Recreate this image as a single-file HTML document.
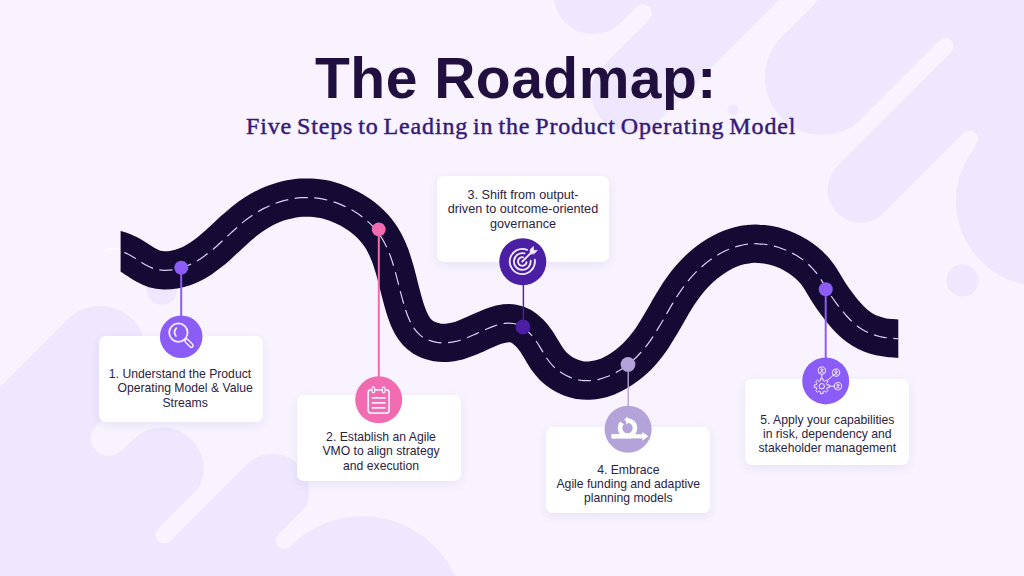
<!DOCTYPE html>
<html lang="en"><head><meta charset="utf-8"><title>The Roadmap</title>
<style>
html,body{margin:0;padding:0}
body{width:1024px;height:576px;overflow:hidden;background:#f8f3fe;position:relative;font-family:"Liberation Sans",sans-serif}
svg{position:absolute;left:0;top:0;display:block}
h1{position:absolute;margin:0;left:315px;top:44.6px;font:bold 57px/66px "Liberation Sans",sans-serif;color:#21103f;white-space:nowrap;letter-spacing:0.5px}
h2{position:absolute;margin:0;left:246px;top:110.6px;font:normal 24px/30px "Liberation Serif",serif;color:#351a78;white-space:nowrap;letter-spacing:0.85px;word-spacing:-1.9px;-webkit-text-stroke:0.45px #351a78}
.card{position:absolute;background:#fff;border-radius:7px;box-shadow:0 3px 10px rgba(125,95,200,.11);width:164px;height:86px}
.card p{position:absolute;margin:0;left:0;width:100%;text-align:center;font:12.2px/14.4px "Liberation Sans",sans-serif;color:#2a2344;white-space:nowrap}
</style></head>
<body>
<svg width="1024" height="576" viewBox="0 0 1024 576">
<g id="blobs">
<line x1="593" y1="-4.7" x2="1293" y2="-704.7" stroke="#eee7fd" stroke-width="78" stroke-linecap="round"/>
<line x1="630.6" y1="93.3" x2="1330.6" y2="-606.7" stroke="#eee7fd" stroke-width="78" stroke-linecap="round"/>
<line x1="822.4" y1="77.5" x2="1522.4" y2="-622.5" stroke="#eee7fd" stroke-width="115.0" stroke-linecap="round"/>
<line x1="860.6" y1="189.7" x2="1560.6" y2="-510.3" stroke="#eee7fd" stroke-width="66" stroke-linecap="round"/>
<line x1="1041" y1="201" x2="1741" y2="-499" stroke="#eee7fd" stroke-width="170" stroke-linecap="round"/>
<line x1="643.1" y1="13.1" x2="1343.1" y2="-686.9" stroke="#eee7fd" stroke-width="21.5" stroke-linecap="butt"/>
<line x1="643.1" y1="13.1" x2="483.1" y2="173.1" stroke="#f8f3fe" stroke-width="17.5" stroke-linecap="round"/>
<line x1="945.5" y1="46" x2="1645.5" y2="-654" stroke="#eee7fd" stroke-width="20" stroke-linecap="butt"/>
<line x1="945.5" y1="46" x2="785.5" y2="206" stroke="#f8f3fe" stroke-width="16" stroke-linecap="round"/>
<line x1="969.6" y1="139" x2="1669.6" y2="-561" stroke="#eee7fd" stroke-width="21.0" stroke-linecap="butt"/>
<line x1="969.6" y1="139" x2="809.6" y2="299" stroke="#f8f3fe" stroke-width="17.0" stroke-linecap="round"/>
<line x1="100" y1="352" x2="-600" y2="1052" stroke="#eee7fd" stroke-width="92" stroke-linecap="round"/>
<line x1="162.5" y1="468.5" x2="-537.5" y2="1168.5" stroke="#eee7fd" stroke-width="82.5" stroke-linecap="round"/>
<line x1="272.5" y1="490.7" x2="-427.5" y2="1190.7" stroke="#eee7fd" stroke-width="73.8" stroke-linecap="round"/>
<line x1="362.4" y1="618.3" x2="-337.6" y2="1318.3" stroke="#eee7fd" stroke-width="204" stroke-linecap="round"/>
<line x1="127" y1="392.4" x2="-73" y2="592.4" stroke="#eee7fd" stroke-width="7"/>
<line x1="108.2" y1="438.3" x2="-591.8" y2="1138.3" stroke="#eee7fd" stroke-width="39.0" stroke-linecap="butt"/>
<line x1="108.2" y1="438.3" x2="218.2" y2="328.3" stroke="#f8f3fe" stroke-width="35.0" stroke-linecap="round"/>
<line x1="164" y1="535" x2="-536" y2="1235" stroke="#eee7fd" stroke-width="21.0" stroke-linecap="butt"/>
<line x1="164" y1="535" x2="274" y2="425" stroke="#f8f3fe" stroke-width="17.0" stroke-linecap="round"/>
<line x1="284.1" y1="540.4" x2="-415.9" y2="1240.4" stroke="#eee7fd" stroke-width="21.0" stroke-linecap="butt"/>
<line x1="284.1" y1="540.4" x2="394.1" y2="430.4" stroke="#f8f3fe" stroke-width="17.0" stroke-linecap="round"/>
<circle cx="733" cy="109.8" r="5.6" fill="#eee7fd"/>
<circle cx="962.5" cy="280.5" r="16" fill="#eee7fd"/>
<circle cx="162" cy="290" r="15" fill="#eee7fd"/>
</g>
<defs><clipPath id="rc"><rect x="120.6" y="150" width="777.7" height="300"/></clipPath></defs>
<g clip-path="url(#rc)" fill="none">
<path d="M79.9 246.4C81.6 246.4 86.7 246.2 90.0 246.2C93.4 246.3 96.8 246.4 100.1 246.7C103.4 247.0 106.7 247.4 109.9 248.0C113.1 248.7 116.3 249.4 119.4 250.5C122.5 251.5 125.5 252.8 128.4 254.3C131.3 255.7 134.1 257.6 136.9 259.4C139.8 261.2 142.5 263.2 145.4 264.8C148.3 266.4 151.2 267.9 154.3 268.8C157.4 269.7 160.8 270.2 164.1 270.3C167.4 270.4 170.8 270.1 174.1 269.6C177.4 269.0 180.7 268.2 183.8 267.1C187.0 266.0 190.0 264.7 192.9 263.2C195.8 261.7 198.6 260.0 201.3 258.2C204.0 256.4 206.6 254.4 209.2 252.4C211.8 250.4 214.4 248.2 216.9 246.0C219.4 243.7 221.8 241.4 224.3 239.1C226.8 236.9 229.3 234.5 231.7 232.2C234.2 230.0 236.7 227.7 239.3 225.5C241.8 223.3 244.4 221.1 247.1 219.1C249.7 217.1 252.5 215.2 255.3 213.4C258.1 211.6 260.9 209.9 263.9 208.4C266.8 206.9 269.8 205.6 272.8 204.3C275.8 203.1 278.9 202.0 282.1 201.1C285.2 200.2 288.4 199.5 291.6 198.9C294.8 198.4 298.0 197.9 301.2 197.7C304.5 197.5 307.8 197.5 311.0 197.6C314.3 197.8 317.6 198.2 320.9 198.7C324.2 199.3 327.5 200.0 330.7 201.0C334.0 201.9 337.2 203.1 340.4 204.4C343.6 205.7 346.7 207.1 349.7 208.8C352.7 210.4 355.6 212.2 358.4 214.1C361.2 216.0 363.9 218.1 366.5 220.3C369.0 222.5 371.4 224.8 373.6 227.2C375.8 229.6 377.8 232.2 379.6 234.8C381.5 237.4 383.1 240.2 384.6 243.0C386.1 245.8 387.4 248.7 388.6 251.7C389.9 254.6 391.0 257.7 392.0 260.8C393.0 263.9 394.0 267.0 394.9 270.2C395.8 273.4 396.6 276.6 397.4 279.9C398.3 283.2 399.1 286.5 399.9 289.8C400.8 293.1 401.6 296.4 402.6 299.8C403.5 303.1 404.4 306.5 405.5 309.8C406.6 313.0 407.7 316.3 409.1 319.3C410.5 322.4 411.9 325.3 413.7 327.9C415.5 330.5 417.5 332.9 419.9 334.9C422.2 336.9 424.9 338.5 427.7 339.7C430.6 341.0 433.7 341.8 436.9 342.4C440.1 342.9 443.5 343.0 446.8 342.8C450.2 342.6 453.6 342.0 456.9 341.2C460.2 340.3 463.5 339.1 466.8 337.8C470.1 336.6 473.4 335.0 476.6 333.6C479.8 332.2 483.0 330.6 486.1 329.3C489.3 327.9 492.4 326.6 495.4 325.6C498.5 324.6 501.5 323.8 504.5 323.4C507.5 323.1 510.4 323.0 513.2 323.5C516.1 324.0 518.9 325.0 521.7 326.6C524.4 328.2 527.2 330.6 529.6 333.1C532.1 335.6 534.4 338.6 536.4 341.5C538.5 344.4 540.1 347.5 541.9 350.4C543.7 353.3 545.3 356.3 547.3 359.0C549.2 361.7 551.3 364.3 553.6 366.6C556.0 368.9 558.7 371.0 561.5 372.8C564.2 374.6 567.3 376.2 570.3 377.4C573.4 378.6 576.6 379.5 579.7 380.1C582.9 380.6 586.1 380.8 589.3 380.6C592.5 380.5 595.7 380.0 598.8 379.3C602.0 378.6 605.1 377.5 608.2 376.3C611.3 375.0 614.3 373.5 617.2 371.8C620.1 370.2 623.0 368.2 625.7 366.2C628.5 364.2 631.2 362.0 633.7 359.7C636.2 357.4 638.6 355.0 640.8 352.5C643.1 350.0 645.2 347.4 647.2 344.8C649.2 342.2 651.1 339.5 652.9 336.8C654.7 334.0 656.4 331.2 658.1 328.4C659.8 325.6 661.5 322.8 663.1 320.0C664.8 317.1 666.4 314.3 668.0 311.4C669.7 308.6 671.3 305.7 673.0 302.9C674.7 300.1 676.4 297.3 678.2 294.5C680.1 291.7 681.9 289.0 683.9 286.3C685.9 283.6 688.0 281.0 690.2 278.4C692.4 275.9 694.7 273.4 697.1 271.0C699.5 268.7 702.1 266.4 704.6 264.2C707.2 262.1 709.9 260.0 712.6 258.2C715.4 256.3 718.2 254.5 721.1 253.0C724.0 251.4 727.0 250.0 730.0 248.8C733.0 247.6 736.1 246.6 739.2 245.8C742.4 245.0 745.6 244.4 748.8 244.1C752.0 243.7 755.3 243.6 758.6 243.8C761.9 243.9 765.2 244.3 768.5 244.9C771.7 245.5 775.0 246.3 778.2 247.3C781.4 248.3 784.6 249.5 787.7 250.9C790.8 252.3 793.8 253.9 796.6 255.6C799.5 257.4 802.3 259.3 804.9 261.4C807.5 263.5 810.0 265.7 812.2 268.1C814.5 270.5 816.6 273.1 818.5 275.8C820.4 278.4 822.0 281.3 823.7 284.0C825.4 286.8 827.0 289.7 828.8 292.4C830.6 295.2 832.4 297.9 834.4 300.6C836.3 303.3 838.4 306.0 840.5 308.7C842.6 311.3 844.8 314.0 847.1 316.5C849.4 319.0 851.8 321.5 854.3 323.6C856.9 325.8 859.5 327.8 862.3 329.5C865.0 331.2 867.9 332.6 870.9 333.8C873.9 335.0 877.1 335.8 880.2 336.6C883.4 337.3 886.7 337.8 890.0 338.1C893.3 338.5 896.6 338.7 900.0 338.8C903.4 339.0 906.8 339.0 910.1 339.0C913.5 338.9 916.9 338.8 920.2 338.8C923.5 338.7 928.3 338.6 930.0 338.6" stroke="#140a33" stroke-width="38.3"/>
<path d="M79.9 246.4C81.6 246.4 86.7 246.2 90.0 246.2C93.4 246.3 96.8 246.4 100.1 246.7C103.4 247.0 106.7 247.4 109.9 248.0C113.1 248.7 116.3 249.4 119.4 250.5C122.5 251.5 125.5 252.8 128.4 254.3C131.3 255.7 134.1 257.6 136.9 259.4C139.8 261.2 142.5 263.2 145.4 264.8C148.3 266.4 151.2 267.9 154.3 268.8C157.4 269.7 160.8 270.2 164.1 270.3C167.4 270.4 170.8 270.1 174.1 269.6C177.4 269.0 180.7 268.2 183.8 267.1C187.0 266.0 190.0 264.7 192.9 263.2C195.8 261.7 198.6 260.0 201.3 258.2C204.0 256.4 206.6 254.4 209.2 252.4C211.8 250.4 214.4 248.2 216.9 246.0C219.4 243.7 221.8 241.4 224.3 239.1C226.8 236.9 229.3 234.5 231.7 232.2C234.2 230.0 236.7 227.7 239.3 225.5C241.8 223.3 244.4 221.1 247.1 219.1C249.7 217.1 252.5 215.2 255.3 213.4C258.1 211.6 260.9 209.9 263.9 208.4C266.8 206.9 269.8 205.6 272.8 204.3C275.8 203.1 278.9 202.0 282.1 201.1C285.2 200.2 288.4 199.5 291.6 198.9C294.8 198.4 298.0 197.9 301.2 197.7C304.5 197.5 307.8 197.5 311.0 197.6C314.3 197.8 317.6 198.2 320.9 198.7C324.2 199.3 327.5 200.0 330.7 201.0C334.0 201.9 337.2 203.1 340.4 204.4C343.6 205.7 346.7 207.1 349.7 208.8C352.7 210.4 355.6 212.2 358.4 214.1C361.2 216.0 363.9 218.1 366.5 220.3C369.0 222.5 371.4 224.8 373.6 227.2C375.8 229.6 377.8 232.2 379.6 234.8C381.5 237.4 383.1 240.2 384.6 243.0C386.1 245.8 387.4 248.7 388.6 251.7C389.9 254.6 391.0 257.7 392.0 260.8C393.0 263.9 394.0 267.0 394.9 270.2C395.8 273.4 396.6 276.6 397.4 279.9C398.3 283.2 399.1 286.5 399.9 289.8C400.8 293.1 401.6 296.4 402.6 299.8C403.5 303.1 404.4 306.5 405.5 309.8C406.6 313.0 407.7 316.3 409.1 319.3C410.5 322.4 411.9 325.3 413.7 327.9C415.5 330.5 417.5 332.9 419.9 334.9C422.2 336.9 424.9 338.5 427.7 339.7C430.6 341.0 433.7 341.8 436.9 342.4C440.1 342.9 443.5 343.0 446.8 342.8C450.2 342.6 453.6 342.0 456.9 341.2C460.2 340.3 463.5 339.1 466.8 337.8C470.1 336.6 473.4 335.0 476.6 333.6C479.8 332.2 483.0 330.6 486.1 329.3C489.3 327.9 492.4 326.6 495.4 325.6C498.5 324.6 501.5 323.8 504.5 323.4C507.5 323.1 510.4 323.0 513.2 323.5C516.1 324.0 518.9 325.0 521.7 326.6C524.4 328.2 527.2 330.6 529.6 333.1C532.1 335.6 534.4 338.6 536.4 341.5C538.5 344.4 540.1 347.5 541.9 350.4C543.7 353.3 545.3 356.3 547.3 359.0C549.2 361.7 551.3 364.3 553.6 366.6C556.0 368.9 558.7 371.0 561.5 372.8C564.2 374.6 567.3 376.2 570.3 377.4C573.4 378.6 576.6 379.5 579.7 380.1C582.9 380.6 586.1 380.8 589.3 380.6C592.5 380.5 595.7 380.0 598.8 379.3C602.0 378.6 605.1 377.5 608.2 376.3C611.3 375.0 614.3 373.5 617.2 371.8C620.1 370.2 623.0 368.2 625.7 366.2C628.5 364.2 631.2 362.0 633.7 359.7C636.2 357.4 638.6 355.0 640.8 352.5C643.1 350.0 645.2 347.4 647.2 344.8C649.2 342.2 651.1 339.5 652.9 336.8C654.7 334.0 656.4 331.2 658.1 328.4C659.8 325.6 661.5 322.8 663.1 320.0C664.8 317.1 666.4 314.3 668.0 311.4C669.7 308.6 671.3 305.7 673.0 302.9C674.7 300.1 676.4 297.3 678.2 294.5C680.1 291.7 681.9 289.0 683.9 286.3C685.9 283.6 688.0 281.0 690.2 278.4C692.4 275.9 694.7 273.4 697.1 271.0C699.5 268.7 702.1 266.4 704.6 264.2C707.2 262.1 709.9 260.0 712.6 258.2C715.4 256.3 718.2 254.5 721.1 253.0C724.0 251.4 727.0 250.0 730.0 248.8C733.0 247.6 736.1 246.6 739.2 245.8C742.4 245.0 745.6 244.4 748.8 244.1C752.0 243.7 755.3 243.6 758.6 243.8C761.9 243.9 765.2 244.3 768.5 244.9C771.7 245.5 775.0 246.3 778.2 247.3C781.4 248.3 784.6 249.5 787.7 250.9C790.8 252.3 793.8 253.9 796.6 255.6C799.5 257.4 802.3 259.3 804.9 261.4C807.5 263.5 810.0 265.7 812.2 268.1C814.5 270.5 816.6 273.1 818.5 275.8C820.4 278.4 822.0 281.3 823.7 284.0C825.4 286.8 827.0 289.7 828.8 292.4C830.6 295.2 832.4 297.9 834.4 300.6C836.3 303.3 838.4 306.0 840.5 308.7C842.6 311.3 844.8 314.0 847.1 316.5C849.4 319.0 851.8 321.5 854.3 323.6C856.9 325.8 859.5 327.8 862.3 329.5C865.0 331.2 867.9 332.6 870.9 333.8C873.9 335.0 877.1 335.8 880.2 336.6C883.4 337.3 886.7 337.8 890.0 338.1C893.3 338.5 896.6 338.7 900.0 338.8C903.4 339.0 906.8 339.0 910.1 339.0C913.5 338.9 916.9 338.8 920.2 338.8C923.5 338.7 928.3 338.6 930.0 338.6" stroke="#d9d0f2" stroke-width="1.2" stroke-dasharray="13.1 6.55" stroke-dashoffset="-6"/>
</g>
<path d="M104.5 250.2Q112 248.2 119.5 248.8" stroke="#ffffff" stroke-width="1.3" fill="none" opacity=".85"/>
</svg>
<h1>The Roadmap:</h1>
<h2>Five Steps to Leading in the Product Operating Model</h2>

<div class="card" style="left:99px;top:336px"><p style="top:31px;left:-1px">1. Understand the Product<br>&nbsp;&nbsp;&nbsp;Operating Model &amp; Value<br>&nbsp;&nbsp;&nbsp;Streams</p></div>
<div class="card" style="left:297px;top:394.5px"><p style="top:35.5px;left:2px">2. Establish an Agile<br>VMO to align strategy<br>and execution</p></div>
<div class="card" style="left:437px;top:175.5px;width:172px"><p style="top:12.3px;font-size:12.65px">3. Shift from output-<br>driven to outcome-oriented<br>governance</p></div>
<div class="card" style="left:546.3px;top:427px"><p style="top:35.5px">4. Embrace<br>Agile funding and adaptive<br>planning models</p></div>
<div class="card" style="left:745px;top:378.5px"><p style="top:34px;left:0.3px">5. Apply your capabilities<br>in risk, dependency and<br>stakeholder management</p></div>

<svg width="1024" height="576" viewBox="0 0 1024 576" fill="none">
<!-- connectors -->
<line x1="181.2" y1="267" x2="181.2" y2="318" stroke="#8b5cf6" stroke-width="2"/>
<line x1="378.8" y1="229" x2="378.8" y2="378" stroke="#f06bb0" stroke-width="2"/>
<line x1="523.4" y1="284" x2="523.4" y2="327" stroke="#4b1fa3" stroke-width="1.4"/>
<line x1="628.2" y1="363" x2="628.2" y2="407" stroke="#b3a3d9" stroke-width="1.4"/>
<line x1="825.7" y1="289" x2="825.7" y2="359" stroke="#8b5cf6" stroke-width="2"/>
<!-- dots -->
<circle cx="181.25" cy="267.75" r="7" fill="#8b5cf6"/>
<circle cx="378.75" cy="229.4" r="6.9" fill="#f06bb0"/>
<circle cx="523" cy="327" r="7.5" fill="#4b1fa3"/>
<circle cx="628" cy="364.4" r="7.4" fill="#b3a3d9"/>
<circle cx="825.75" cy="289.25" r="7" fill="#8b5cf6"/>
<!-- icon circles -->
<circle cx="181.2" cy="336.7" r="21.3" fill="#8b5cf6"/>
<circle cx="378.7" cy="399.8" r="23.5" fill="#f06bb0"/>
<circle cx="522.8" cy="261.7" r="23.5" fill="#4b1fa3"/>
<circle cx="628.1" cy="429.2" r="23.5" fill="#b3a3d9"/>
<circle cx="825.7" cy="380.9" r="23.5" fill="#8b5cf6"/>
<g stroke="#f4edff" stroke-width="1.8" fill="none" stroke-linecap="round">
<circle cx="178.4" cy="332.6" r="9.2"/>
<path d="M176.3 328.2Q172.9 332 175.9 336"/>
<rect x="-1.8" y="0" width="3.6" height="10" rx="1.8" transform="translate(185.5 339.7) rotate(-45)" fill="#8b5cf6" stroke-width="1.5"/>
</g>
<g stroke="#f4edff" stroke-width="1.7" fill="none" stroke-linecap="round">
<rect x="368.2" y="389.9" width="20.9" height="23.2" rx="2.6"/>
<path d="M372.3 397.8H385M372.3 402.8H385M372.3 407.8H385"/>
<rect x="372.1" y="386.9" width="2.6" height="6" rx="1.3" fill="#f06bb0" stroke-width="1.2"/>
<rect x="382.4" y="386.9" width="2.6" height="6" rx="1.3" fill="#f06bb0" stroke-width="1.2"/>
</g>
<g stroke="#f4edff" stroke-width="1.8" fill="none" stroke-linecap="round">
<path d="M534.78 259.75A12.6 12.6 0 1 1 527.02 249.82M530.67 260.77A8.4 8.4 0 1 1 524.47 253.39M526.53 262.25A4.3 4.3 0 1 1 523.05 257.27"/>
<path d="M522.3 261.5L531.5 252.3"/>
<path d="M530.2 253.6V249.6L533.4 246.6V250.4H537.2L534.2 253.6Z" fill="#f4edff" stroke-width="0.8" stroke-linejoin="round"/>
</g>
<g fill="#ffffff" stroke="none">
<rect x="611.6" y="434.2" width="31.5" height="4.2"/>
<path d="M642.4 431.9L648.3 436.3L642.4 440.7Z"/>
<path d="M627.5 418.2A9.8 9.8 0 1 1 627.5 437.8A9.8 9.8 0 1 1 627.5 418.2ZM627.5 422.8A5.2 5.2 0 1 0 627.5 433.2A5.2 5.2 0 1 0 627.5 422.8Z" fill-rule="evenodd"/>
</g>
<path d="M627.0 422.5L622.3 417.0L619.0 420.8L624.3 424.6Z" fill="#b3a3d9"/>
<path d="M626.3 416.6L631.1 420.4L626.3 424.4Z" fill="#ffffff"/>
<rect x="611.6" y="434.2" width="20" height="4.2" fill="#ffffff"/>
<g stroke="#f4edff" stroke-width="1" fill="none" stroke-linejoin="round" stroke-linecap="round">
<path d="M827.34 384.85L829.29 384.91L829.29 387.49L827.34 387.55L826.67 389.16L828.01 390.59L826.19 392.41L824.76 391.07L823.15 391.74L823.09 393.69L820.51 393.69L820.45 391.74L818.84 391.07L817.41 392.41L815.59 390.59L816.93 389.16L816.26 387.55L814.31 387.49L814.31 384.91L816.26 384.85L816.93 383.24L815.59 381.81L817.41 379.99L818.84 381.33L820.45 380.66L820.51 378.71L823.09 378.71L823.15 380.66L824.76 381.33L826.19 379.99L828.01 381.81L826.67 383.24Z"/>
<circle cx="821.8" cy="386.2" r="2.7"/>
<circle cx="821.8" cy="370.6" r="3.7"/><circle cx="821.8" cy="369.70000000000005" r="1.05"/><path d="M819.6999999999999 373.0Q821.8 370.0 823.9 373.0"/><circle cx="836" cy="372.6" r="3.7"/><circle cx="836" cy="371.70000000000005" r="1.05"/><path d="M833.9 375.0Q836 372.0 838.1 375.0"/><circle cx="837.9" cy="386.2" r="3.7"/><circle cx="837.9" cy="385.3" r="1.05"/><path d="M835.8 388.59999999999997Q837.9 385.59999999999997 840.0 388.59999999999997"/>
<path d="M821.8 374.4V378.5M827.2 380.6L833.3 375.2M829.6 386.2H834.1"/>
</g>
</svg>
</body></html>
